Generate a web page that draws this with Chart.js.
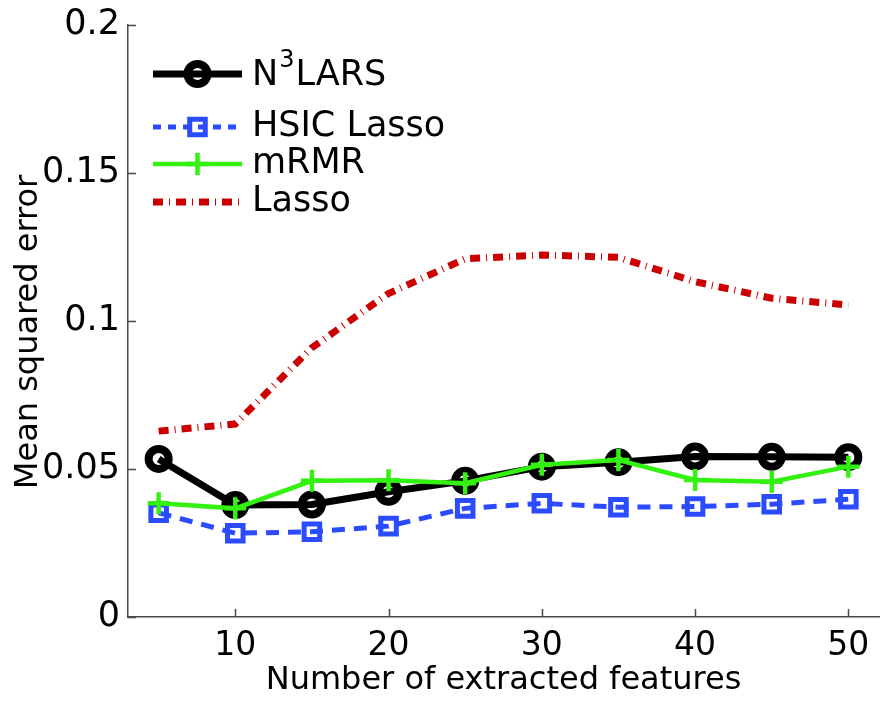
<!DOCTYPE html>
<html>
<head>
<meta charset="utf-8">
<title>Mean squared error vs number of extracted features</title>
<script src="https://cdn.jsdelivr.net/npm/chart.js@4.4.1/dist/chart.umd.min.js"></script>
<style>
  html, body { margin: 0; padding: 0; background: #fff; }
  canvas { display: block; }
</style>
</head>
<body>
<canvas id="mseChart" width="891" height="702"></canvas>
<script>
// data
const features = [5, 10, 15, 20, 25, 30, 35, 40, 45, 50];
const n3lars = [0.0534, 0.0378, 0.0380, 0.0423, 0.0460, 0.0508, 0.0523, 0.0542, 0.0541, 0.0540];
const hsicLasso = [0.0352, 0.0283, 0.0288, 0.0307, 0.0367, 0.0384, 0.0371, 0.0373, 0.0381, 0.0398];
const mrmr = [0.0384, 0.0367, 0.0460, 0.0462, 0.0452, 0.0514, 0.0530, 0.0463, 0.0457, 0.0508];
const lasso = [0.0628, 0.0652, 0.0910, 0.1093, 0.1210, 0.1223, 0.1215, 0.1133, 0.1077, 0.1054];

const xTicks = [10, 20, 30, 40, 50];
const yTicks = [0, 0.05, 0.1, 0.15, 0.2];

const FONT = 'DejaVu Sans';
const AXIS_COLOR = '#4a4a4a';

function toPoints(values) {
    return features.map((f, i) => ({ x: f, y: values[i] }));
}

// inward tick marks, matlab style
const innerTicks = {
    id: 'innerTicks',
    afterDraw(chart) {
        const ctx = chart.ctx;
        const xs = chart.scales.x;
        const ys = chart.scales.y;
        const area = chart.chartArea;
        ctx.save();
        ctx.strokeStyle = AXIS_COLOR;
        ctx.lineWidth = 1.5;
        ctx.beginPath();
        xTicks.forEach(v => {
            const px = Math.round(xs.getPixelForValue(v)) + 0.5;
            ctx.moveTo(px, area.bottom);
            ctx.lineTo(px, area.bottom - 8);
        });
        yTicks.forEach(v => {
            const py = Math.round(ys.getPixelForValue(v)) + 0.5;
            ctx.moveTo(area.left, py);
            ctx.lineTo(area.left + 8, py);
        });
        ctx.stroke();
        ctx.restore();
    }
};

// y title drawn by hand so it can sit where the original put it
const yTitle = {
    id: 'yTitle',
    afterDraw(chart) {
        const ctx = chart.ctx;
        ctx.save();
        ctx.translate(37, 332);
        ctx.rotate(-Math.PI / 2);
        ctx.font = '32px "' + FONT + '"';
        ctx.fillStyle = '#000';
        ctx.textAlign = 'center';
        ctx.textBaseline = 'alphabetic';
        ctx.fillText('Mean squared error', 0, 0);
        ctx.restore();
    }
};

function drawMarker(ctx, style, x, y, r) {
    ctx.beginPath();
    if (style === 'circle') {
        ctx.arc(x, y, r, 0, Math.PI * 2);
    } else if (style === 'rect') {
        const s = Math.SQRT1_2 * r;
        ctx.rect(x - s, y - s, 2 * s, 2 * s);
    } else if (style === 'cross') {
        ctx.moveTo(x, y - r);
        ctx.lineTo(x, y + r);
        ctx.moveTo(x - r, y);
        ctx.lineTo(x + r, y);
    }
    ctx.stroke();
}

// legend without a box, with the superscript in N3LARS
const lineLegend = {
    id: 'lineLegend',
    afterDraw(chart) {
        const ctx = chart.ctx;
        const rows = [74, 127, 164, 202];
        const x0 = 153, x1 = 242, tx = 252;
        chart.data.datasets.forEach((ds, i) => {
            const y = rows[i];
            ctx.save();
            ctx.strokeStyle = ds.borderColor;
            ctx.lineWidth = ds.borderWidth;
            ctx.lineCap = 'butt';
            ctx.setLineDash(ds.legendDash || ds.borderDash || []);
            ctx.beginPath();
            ctx.moveTo(x0, y);
            ctx.lineTo(x1, y);
            ctx.stroke();
            ctx.setLineDash([]);
            if (ds.pointRadius > 0) {
                ctx.lineWidth = ds.pointBorderWidth;
                drawMarker(ctx, ds.pointStyle, (x0 + x1) / 2, y, ds.pointRadius);
            }
            ctx.fillStyle = '#000';
            ctx.textBaseline = 'middle';
            ctx.textAlign = 'left';
            ctx.font = '35px "' + FONT + '"';
            if (ds.label === 'N3LARS') {
                ctx.fillText('N', tx, y + 2);
                let w = ctx.measureText('N').width;
                ctx.font = '24px "' + FONT + '"';
                ctx.fillText('3', tx + w + 1, y - 13);
                w += ctx.measureText('3').width + 2;
                ctx.font = '35px "' + FONT + '"';
                ctx.fillText('LARS', tx + w, y + 2);
            } else {
                ctx.fillText(ds.label, tx, y);
            }
            ctx.restore();
        });
    }
};

const ctx = document.getElementById('mseChart').getContext('2d');

new Chart(ctx, {
    type: 'line',
    data: {
        datasets: [
            {
                label: 'N3LARS',
                data: toPoints(n3lars),
                borderColor: '#000000',
                borderWidth: 7,
                pointStyle: 'circle',
                pointRadius: 10,
                pointBorderWidth: 8,
                pointBorderColor: '#000000',
                pointBackgroundColor: 'rgba(0,0,0,0)',
                order: 2
            },
            {
                label: 'HSIC Lasso',
                data: toPoints(hsicLasso),
                borderColor: '#2a4bff',
                borderWidth: 5,
                borderDash: [13, 9],
                legendDash: [8, 7],
                pointStyle: 'rect',
                pointRadius: 11,
                pointBorderWidth: 5,
                pointBorderColor: '#2a4bff',
                pointBackgroundColor: 'rgba(0,0,0,0)',
                order: 3
            },
            {
                label: 'mRMR',
                data: toPoints(mrmr),
                borderColor: '#33f20f',
                borderWidth: 4.5,
                pointStyle: 'cross',
                pointRadius: 11,
                pointBorderWidth: 4.5,
                pointBorderColor: '#33f20f',
                order: 1
            },
            {
                label: 'Lasso',
                data: toPoints(lasso),
                borderColor: '#cc0000',
                borderWidth: 7,
                borderDash: [10, 6, 1, 6],
                borderCapStyle: 'butt',
                pointRadius: 0,
                order: 4
            }
        ]
    },
    options: {
        responsive: false,
        devicePixelRatio: 1,
        animation: false,
        layout: { autoPadding: false, padding: { top: 25, right: 12, left: 0, bottom: 0 } },
        elements: { line: { tension: 0, fill: false } },
        plugins: {
            legend: { display: false },
            tooltip: { enabled: false }
        },
        scales: {
            x: {
                type: 'linear',
                min: 3,
                max: 52,
                afterBuildTicks: scale => { scale.ticks = xTicks.map(v => ({ value: v })); },
                afterFit: scale => {
                    scale.height = 85;
                    scale.paddingLeft = 0;
                    scale.paddingRight = 0;
                },
                grid: { display: false, drawTicks: false },
                border: { display: true, color: AXIS_COLOR, width: 1.5 },
                ticks: {
                    color: '#000',
                    padding: 10,
                    maxRotation: 0,
                    font: { family: FONT, size: 33 }
                },
                title: {
                    display: true,
                    text: 'Number of extracted features',
                    color: '#000',
                    padding: { top: 0, bottom: 2 },
                    font: { family: FONT, size: 32 }
                }
            },
            y: {
                min: 0,
                max: 0.2,
                afterBuildTicks: scale => { scale.ticks = yTicks.map(v => ({ value: v })); },
                afterFit: scale => {
                    scale.width = 128;
                    scale.paddingTop = 0;
                    scale.paddingBottom = 0;
                },
                grid: { display: false, drawTicks: false },
                border: { display: true, color: AXIS_COLOR, width: 1.5 },
                ticks: {
                    color: '#000',
                    padding: 8,
                    font: { family: FONT, size: 35 },
                    callback: v => String(Math.round(v * 100) / 100)
                }
            }
        }
    },
    plugins: [innerTicks, yTitle, lineLegend]
});
</script>
</body>
</html>
